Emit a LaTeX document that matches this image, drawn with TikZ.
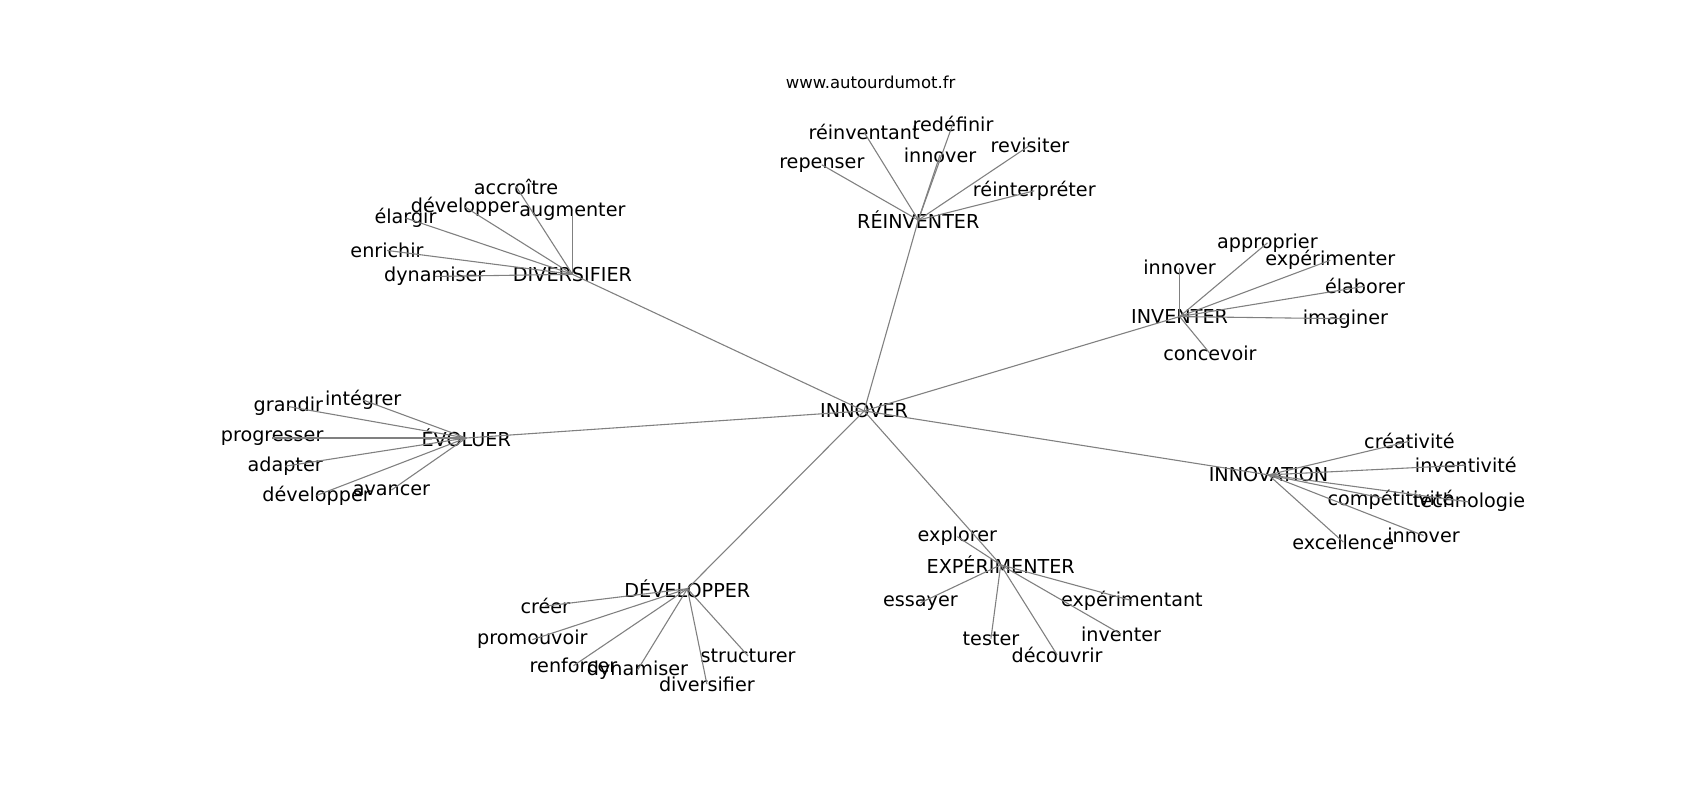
\documentclass[tikz,border=0pt]{standalone}
\usepackage{fontspec}
\setmainfont{DejaVu Sans}
\begin{document}
\begin{tikzpicture}[x=1pt,y=-1pt,
  lbl/.style={inner sep=0pt,font=\fontsize{17.7}{21}\selectfont,text=black},
  ttl/.style={inner sep=0pt,font=\fontsize{15.2}{18}\selectfont,text=black},
  edge/.style={draw=gray,line width=1pt}]
\useasboundingbox[fill=white] (0,0) rectangle (1568,738);
\node[ttl] (site) at (803,76) {www.autourdumot.fr};
% hubs
\node[lbl] (inn) at (797,379) {INNOVER};
\node[lbl] (rei) at (847,203) {RÉINVENTER};
\node[lbl] (div) at (528,253) {DIVERSIFIER};
\node[lbl] (inv) at (1088,292) {INVENTER};
\node[lbl] (evo) at (430,404) {ÉVOLUER};
\node[lbl] (inno) at (1170,438) {INNOVATION};
\node[lbl] (dev) at (634,543) {DÉVELOPPER};
\node[lbl] (exp) at (923,521) {EXPÉRIMENTER};
% RÉINVENTER leaves
\node[lbl] (r1) at (797,122) {réinventant};
\node[lbl] (r2) at (879,114) {redéfinir};
\node[lbl] (r3) at (867,143) {innover};
\node[lbl] (r4) at (758,152) {repenser};
\node[lbl] (r5) at (950,134) {revisiter};
\node[lbl] (r6) at (954,176) {réinterpréter};
% DIVERSIFIER leaves
\node[lbl] (d1) at (476,172) {accroître};
\node[lbl] (d2) at (429,191) {développer};
\node[lbl] (d3) at (528,195) {augmenter};
\node[lbl] (d4) at (374,201) {élargir};
\node[lbl] (d5) at (357,231) {enrichir};
\node[lbl] (d6) at (401,255) {dynamiser};
% INVENTER leaves
\node[lbl] (i1) at (1169,224) {approprier};
\node[lbl] (i2) at (1088,247) {innover};
\node[lbl] (i3) at (1227,240) {expérimenter};
\node[lbl] (i4) at (1259,264) {élaborer};
\node[lbl] (i5) at (1241,294) {imaginer};
\node[lbl] (i6) at (1116,326) {concevoir};
% ÉVOLUER leaves
\node[lbl] (e1) at (335,369) {intégrer};
\node[lbl] (e2) at (266,375) {grandir};
\node[lbl] (e3) at (251,404) {progresser};
\node[lbl] (e4) at (263,430) {adapter};
\node[lbl] (e5) at (292,457) {développer};
\node[lbl] (e6) at (361,452) {avancer};
% INNOVATION leaves
\node[lbl] (n1) at (1300,407) {créativité};
\node[lbl] (n2) at (1352,429) {inventivité};
\node[lbl] (n3) at (1283,461) {compétitivité};
\node[lbl] (n4) at (1355,463) {technologie};
\node[lbl] (n5) at (1239,500) {excellence};
\node[lbl] (n6) at (1313,494) {innover};
% DÉVELOPPER leaves
\node[lbl] (v1) at (503,559) {créer};
\node[lbl] (v2) at (491,590) {promouvoir};
\node[lbl] (v3) at (529,614) {renforcer};
\node[lbl] (v4) at (588,618) {dynamiser};
\node[lbl] (v5) at (652,631) {diversifier};
\node[lbl] (v6) at (690,605) {structurer};
% EXPÉRIMENTER leaves
\node[lbl] (x1) at (883,495) {explorer};
\node[lbl] (x2) at (849,556) {essayer};
\node[lbl] (x3) at (1044,554) {expérimentant};
\node[lbl] (x4) at (914,589) {tester};
\node[lbl] (x5) at (1034,585) {inventer};
\node[lbl] (x6) at (975,604) {découvrir};
% edges
\foreach \h in {rei,div,inv,evo,inno,dev,exp}
  \draw[edge] (inn.center) -- (\h.center);
\foreach \l in {r1,r2,r3,r4,r5,r6} \draw[edge] (rei.center) -- (\l.center);
\foreach \l in {d1,d2,d3,d4,d5,d6} \draw[edge] (div.center) -- (\l.center);
\foreach \l in {i1,i2,i3,i4,i5,i6} \draw[edge] (inv.center) -- (\l.center);
\foreach \l in {e1,e2,e3,e4,e5,e6} \draw[edge] (evo.center) -- (\l.center);
\foreach \l in {n1,n2,n3,n4,n5,n6} \draw[edge] (inno.center) -- (\l.center);
\foreach \l in {v1,v2,v3,v4,v5,v6} \draw[edge] (dev.center) -- (\l.center);
\foreach \l in {x1,x2,x3,x4,x5,x6} \draw[edge] (exp.center) -- (\l.center);
\end{tikzpicture}
\end{document}
